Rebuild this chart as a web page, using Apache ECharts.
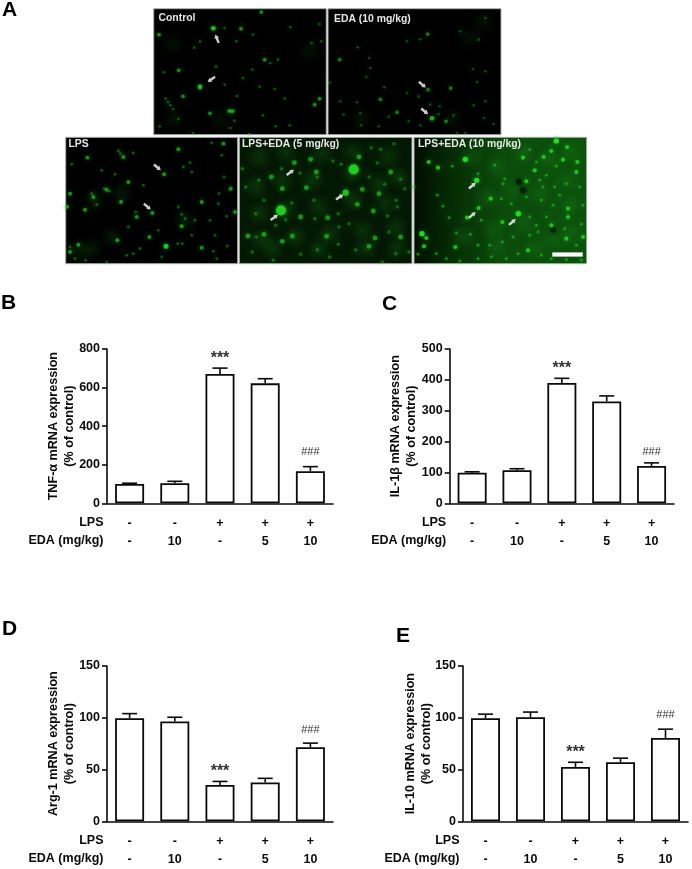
<!DOCTYPE html>
<html><head><meta charset="utf-8">
<style>html,body{margin:0;padding:0;background:#fff}#c{width:692px;height:869px}</style>
<script src="https://cdn.jsdelivr.net/npm/echarts@6/dist/echarts.min.js"></script>
</head><body><div id="c"></div>
<script>
// ---------- bar chart data ----------
const lps = ['-','-','+','+','+'];
const eda = ['-','10','-','5','10'];
const sig = ['','','***','','###'];
const tnfMean = [100,104,670,622,166];
const tnfSem  = [4,10,31,24,24];
const il1Mean = [99,107,390,330,121];
const il1Sem  = [3,5,15,18,10];
const argMean = [99.5,96.5,35,37.5,71.5];
const argSem  = [4.5,4,3.5,4,4];
const il10Mean = [99.5,100.5,52.5,57,80.5];
const il10Sem  = [4,5,4.5,4,8.5];

// ---------- micrograph signal spots: [x, y, intensity] ----------
const spotsControl = [[181,61,3],[141,237,3],[77,187,2],[264,62,2],[325,12,2],[500,272,2],[485,290,2],[18,80,2],[171,316,2],[90,265,2],[335,155,2],[234,309,2],[228,309,2],[240,309,2],[244,338,1],[141,101,1],[124,119,1],[189,176,1],[32,193,1],[250,100,1],[215,60,1],[300,80,1],[412,58,1],[500,48,1],[476,105,1],[505,100,1],[298,185,1],[352,165,1],[375,155,1],[270,210,1],[320,236,1],[365,243,1],[252,264,1],[215,230,1],[395,272,1],[76,333,1],[330,322,1],[368,355,1],[410,352,1],[232,360,1],[120,375,1],[288,378,1],[20,355,1],[38,272,1],[45,282,1],[52,292,1],[60,303,1]];
const spotsEda = [[315,331,3],[38,155,2],[357,340,2],[303,245,2],[371,240,2],[210,313,2],[160,274,2],[100,315,1],[92,118,1],[126,150,1],[302,78,2],[280,94,1],[240,100,1],[130,180,1],[118,207,1],[172,238,1],[8,224,1],[40,280,1],[90,283,1],[50,320,1],[102,352,1],[155,355,1],[240,255,1],[275,265,1],[310,290,1],[338,295,1],[335,318,1],[380,322,1],[440,292,1],[475,280,1],[450,222,1],[438,183,1],[475,190,1],[455,95,1],[475,30,1],[400,70,1],[280,352,1],[390,375,1],[415,375,1],[500,348,1],[472,330,1],[245,340,1],[185,326,1]];
const spotsLps = [[303,328,3],[6,209,2],[60,218,2],[15,170,2],[67,62,2],[175,60,2],[160,42,1],[166,50,1],[205,48,1],[297,112,2],[340,37,2],[475,20,2],[440,18,1],[470,55,1],[20,82,1],[110,100,1],[150,112,1],[190,135,2],[235,145,1],[118,155,1],[125,158,2],[133,163,1],[85,180,2],[80,170,1],[168,195,2],[95,203,1],[215,240,2],[212,225,1],[262,228,2],[190,270,1],[157,310,2],[253,300,2],[280,280,1],[350,268,2],[338,320,1],[352,320,1],[410,195,2],[355,90,1],[375,77,1],[380,105,1],[477,120,1],[497,155,2],[462,170,1],[460,200,1],[510,225,2],[485,238,1],[390,250,1],[435,250,1],[380,295,1],[450,295,1],[410,332,2],[445,343,1],[487,327,1],[455,365,1],[40,323,2],[15,345,2],[62,370,1],[125,375,1],[205,350,1],[225,335,1],[290,360,1],[185,355,1],[340,210,1],[350,232,1],[360,245,1],[15,330,1],[30,365,1]];
const spotsEda5 = [[126,220,4],[344,97,4],[97,120,2],[130,155,2],[202,152,2],[320,167,3],[166,77,2],[128,95,1],[183,108,1],[215,67,2],[232,105,2],[235,120,1],[282,72,1],[307,82,1],[397,32,1],[425,37,1],[360,60,2],[415,78,1],[455,105,2],[485,127,1],[437,142,1],[370,157,2],[497,155,1],[420,170,2],[472,190,1],[10,95,1],[158,198,1],[185,240,2],[228,245,1],[266,242,2],[298,230,1],[140,248,1],[110,265,1],[355,202,2],[403,222,2],[475,210,1],[445,237,1],[300,270,1],[160,297,2],[75,292,2],[27,297,2],[52,300,1],[130,313,2],[263,298,2],[408,303,2],[485,300,2],[450,285,1],[390,328,2],[298,322,1],[350,338,1],[235,338,1],[185,352,1],[272,360,1],[103,370,1],[40,345,1],[430,375,1],[510,345,1],[470,350,1],[75,190,1],[50,230,1],[20,150,1],[465,20,1],[390,120,1],[330,260,1],[225,190,1],[60,130,1]];
const spotsEda10 = [[191,130,3],[157,67,3],[316,230,3],[27,290,3],[197,213,2],[162,242,2],[127,330,2],[118,88,1],[75,92,2],[47,75,2],[73,175,1],[3,150,1],[90,208,1],[108,242,1],[40,303,2],[33,328,2],[15,352,1],[70,350,1],[130,288,1],[172,292,1],[195,325,1],[230,325,1],[268,315,1],[268,255,2],[233,185,2],[265,185,1],[295,200,1],[275,125,1],[270,140,1],[245,85,1],[195,110,1],[205,250,1],[300,300,1],[340,133,2],[330,62,2],[392,60,2],[370,75,1],[430,12,3],[415,42,2],[462,30,2],[493,75,2],[450,68,2],[430,88,1],[365,100,2],[380,130,1],[400,115,1],[490,105,2],[460,140,1],[425,150,1],[390,150,1],[340,180,1],[385,190,1],[440,175,1],[500,150,1],[510,205,1],[465,215,2],[420,205,1],[350,240,1],[370,265,1],[400,240,1],[465,240,2],[415,265,2],[455,275,1],[505,262,1],[510,300,2],[460,305,2],[375,285,1],[350,295,1],[315,350,1],[345,340,2],[385,355,1],[415,365,1],[460,368,1],[505,370,1],[280,365,1],[235,360,1],[195,365,1],[140,372,1],[100,365,1],[490,325,1],[300,25,1],[350,38,1]];

// broad, faint tissue background: [x, y]
const hazeControl = [[60,335],[200,335],[470,130],[60,110]];
const hazeEda = [[470,45],[430,90],[100,335],[380,335]];
const hazeLps = [[45,340],[80,335],[140,300],[360,250],[170,170],[90,190]];
const hazeEda5 = [[60,60],[140,45],[250,50],[340,45],[450,60],[50,150],[130,130],[220,130],[340,110],[420,140],[480,120],[60,230],[140,220],[240,210],[340,190],[440,200],[70,310],[170,300],[270,290],[370,280],[470,270],[100,335],[240,335],[380,335],[475,335]];
const hazeEda10 = [[180,60],[250,90],[330,45],[410,70],[475,45],[220,180],[300,160],[380,170],[460,130],[475,200],[150,300],[240,280],[330,260],[420,310],[475,290],[250,335],[370,335]];
const darkEda10 = [[318,135],[420,278],[330,160]];

// arrows: [x, y, direction in degrees]
const arrowsControl = [[192,92,112],[175,214,215]];
const arrowsEda = [[286,230,-40],[293,310,-40]];
const arrowsLps = [[277,91,-40],[247,209,-40]];
const arrowsEda5 = [[154,106,35],[302,180,35],[106,241,35]];
const arrowsEda10 = [[178,146,40],[178,234,40],[298,255,40]];

// ---------- layout ----------
const FONT = '"Liberation Sans", Arial, sans-serif';
const halo = (r,g,b,a)=>({type:'radial',x:0.5,y:0.5,r:0.5,colorStops:[{offset:0,color:`rgba(${r},${g},${b},${a})`},{offset:1,color:`rgba(${r},${g},${b},0)`}]});
const panels = [
 {label:'Control', rect:[153.7,8.7,172.6,126], ext:[2,520,2,380], lx:158.5, ly:18, spots:spotsControl, haze:hazeControl, arrows:arrowsControl, bg:'#000', hazeC:halo(20,120,20,0.16), gain:0.85, k:1.05},
 {label:'EDA (10 mg/kg)', rect:[328,8.7,173,126], ext:[3,522,2,380], lx:334, ly:19, spots:spotsEda, haze:hazeEda, arrows:arrowsEda, bg:'#000', hazeC:halo(20,120,20,0.16), gain:0.75, k:1.05},
 {label:'LPS', rect:[65.7,137.3,172,126.4], ext:[2,518,1,380], lx:68.5, ly:144.5, spots:spotsLps, haze:hazeLps, arrows:arrowsLps, bg:'#000', hazeC:halo(20,130,20,0.22), gain:0.9, k:1.1},
 {label:'LPS+EDA (5 mg/kg)', rect:[239.3,137.3,172.7,126.4], ext:[1,519,1,380], lx:242, ly:144.5, spots:spotsEda5, haze:hazeEda5, arrows:arrowsEda5, bg:'#031803', hazeC:halo(30,150,30,0.25), gain:0.85, k:1.35},
 {label:'LPS+EDA (10 mg/kg)', rect:[414,137.3,172.7,126.4], ext:[3,521,1,380], lx:418, ly:144.5, spots:spotsEda10, haze:hazeEda10, arrows:arrowsEda10, dark:darkEda10,
  bg:{type:'linear',x:0,y:0,x2:1,y2:0,colorStops:[{offset:0,color:'#010c01'},{offset:0.2,color:'#042a04'},{offset:0.5,color:'#0a4a0a'},{offset:1,color:'#0b520b'}]}, hazeC:halo(40,160,40,0.22), gain:1.2, k:1.15}
];
const charts = [
 {name:'TNF-α mRNA expression\n(% of control)', mean:tnfMean, sem:tnfSem, max:800, step:200, left:107, top:349, w:226, h:154.3, hashGap:15, nameGap:29},
 {name:'IL-1β mRNA expression\n(% of control)', mean:il1Mean, sem:il1Sem, max:500, step:100, left:449.7, top:349, w:224.3, h:154.3, hashGap:11, nameGap:29.7},
 {name:'Arg-1 mRNA expression\n(% of control)', mean:argMean, sem:argSem, max:150, step:50, left:107, top:666, w:226, h:155.3, hashGap:13, nameGap:29},
 {name:'IL-10 mRNA expression\n(% of control)', mean:il10Mean, sem:il10Sem, max:150, step:50, left:463, top:666, w:225, h:155.3, hashGap:14, nameGap:28}
];
const letters = [['A',2,10.5],['B',1,303],['C',382,304],['D',2,629],['E',396,636.5]];

const grid=[],xAxis=[],yAxis=[],series=[],graphic=[];

// micrograph panels
const spotSize = {1:2.6,2:3.6,3:4.6,4:7.5};
const spotAlpha = {1:0.42,2:0.68,3:0.95,4:1};
panels.forEach(p=>{
  const g=grid.length;
  grid.push({left:p.rect[0],top:p.rect[1],width:p.rect[2],height:p.rect[3],show:true,backgroundColor:p.bg,borderColor:'#a8b0a8',borderWidth:1,containLabel:false});
  xAxis.push({type:'value',gridIndex:g,min:p.ext[0],max:p.ext[1],show:false});
  yAxis.push({type:'value',gridIndex:g,min:p.ext[2],max:p.ext[3],inverse:true,show:false});
  series.push({type:'scatter',xAxisIndex:g,yAxisIndex:g,silent:true,animation:false,symbolSize:26,data:p.haze,
    itemStyle:{color:p.hazeC}});
  if(p.dark) series.push({type:'scatter',xAxisIndex:g,yAxisIndex:g,silent:true,animation:false,symbolSize:6,data:p.dark,
    itemStyle:{color:'rgba(0,10,0,0.75)',shadowBlur:5,shadowColor:'#001000'}});
  series.push({type:'scatter',xAxisIndex:g,yAxisIndex:g,silent:true,animation:false,
    data:p.spots.map(s=>({value:s,symbolSize:spotSize[s[2]]*p.k,itemStyle:{opacity:Math.min(1,spotAlpha[s[2]]*p.gain)}})),
    itemStyle:{color:'#22dc22',shadowBlur:4,shadowColor:'#14a014'}});
  series.push({type:'scatter',xAxisIndex:g,yAxisIndex:g,silent:true,animation:false,z:5,
    symbol:'path://M-1.7 7 L1.7 7 L1.7 -1 L3.4 -1 L0 -7 L-3.4 -1 L-1.7 -1Z',
    data:p.arrows.map(a=>({value:a,symbolRotate:a[2]-90})),symbolSize:[5,9],
    itemStyle:{color:'#fff'}});
  graphic.push({type:'text',z:10,x:p.lx,y:p.ly,style:{text:p.label,fill:'#e6e6e6',font:'bold 10.4px '+FONT,verticalAlign:'middle'}});
});
// scale bar
graphic.push({type:'rect',z:10,shape:{x:552.3,y:252.4,width:30.4,height:4.2},style:{fill:'#fff'}});

// bar charts
const blk='#0a0a0a';
charts.forEach(c=>{
  const g=grid.length;
  grid.push({left:c.left,top:c.top,width:c.w,height:c.h});
  xAxis.push({type:'category',gridIndex:g,data:lps.map((_,i)=>i),
    axisLine:{lineStyle:{color:blk,width:1.6}},
    axisTick:{alignWithLabel:true,length:4.5,lineStyle:{color:blk,width:1.6}},
    axisLabel:{interval:0,margin:11,color:blk,fontFamily:FONT,fontWeight:'bold',fontSize:12.5,lineHeight:18,
      formatter:v=>lps[v]+'\n'+eda[v]}});
  yAxis.push({type:'value',gridIndex:g,min:0,max:c.max,interval:c.step,
    name:c.name,nameLocation:'middle',nameRotate:90,nameGap:c.nameGap,nameMoveOverlap:false,
    nameTextStyle:{color:blk,fontFamily:FONT,fontWeight:'bold',fontSize:12.6,lineHeight:16},
    splitLine:{show:false},
    axisLine:{show:true,lineStyle:{color:blk,width:1.6}},
    axisTick:{show:true,length:5,lineStyle:{color:blk,width:1.6}},
    axisLabel:{margin:7,color:blk,fontFamily:FONT,fontWeight:'bold',fontSize:12.5}});
  series.push({type:'bar',xAxisIndex:g,yAxisIndex:g,data:c.mean,barWidth:29,animation:false,silent:true,z:3,
    itemStyle:{color:'#fff',borderColor:blk,borderWidth:1.8}});
  series.push({type:'custom',xAxisIndex:g,yAxisIndex:g,animation:false,silent:true,z:2,
    data:c.mean.map((m,i)=>[i,m,c.sem[i]]),encode:{x:0,y:1},
    renderItem:(params,api)=>{
      const i=api.value(0),m=api.value(1),s=api.value(2);
      const b=api.coord([i,m]),t=api.coord([i,m+s]);
      const st={stroke:blk,lineWidth:1.6};
      const kids=[
        {type:'line',shape:{x1:b[0],y1:b[1],x2:t[0],y2:t[1]},style:st},
        {type:'line',shape:{x1:t[0]-7.5,y1:t[1],x2:t[0]+7.5,y2:t[1]},style:st}];
      if(sig[i]) kids.push({type:'text',style:{x:t[0],y:t[1]-(sig[i]==='***'?10:c.hashGap),text:sig[i],fill:'#333',
        font:(sig[i]==='***'?'bold 16px ':'11px ')+FONT,textAlign:'center',textVerticalAlign:'middle'}});
      return {type:'group',children:kids};
    }});
  const rx=c.left-3.5, y0=c.top+c.h;
  graphic.push({type:'text',x:rx,y:y0+19,style:{text:'LPS',fill:blk,font:'bold 12.5px '+FONT,textAlign:'right',verticalAlign:'middle'}});
  graphic.push({type:'text',x:rx,y:y0+37,style:{text:'EDA (mg/kg)',fill:blk,font:'bold 12.5px '+FONT,textAlign:'right',verticalAlign:'middle'}});
});
letters.forEach(l=>graphic.push({type:'text',x:l[1],y:l[2],style:{text:l[0],fill:'#000',font:'bold 21px '+FONT,verticalAlign:'middle'}}));

const chart=echarts.init(document.getElementById('c'),null,{renderer:'canvas'});
chart.setOption({animation:false,backgroundColor:'#fff',grid,xAxis,yAxis,series,graphic});
</script></body></html>
